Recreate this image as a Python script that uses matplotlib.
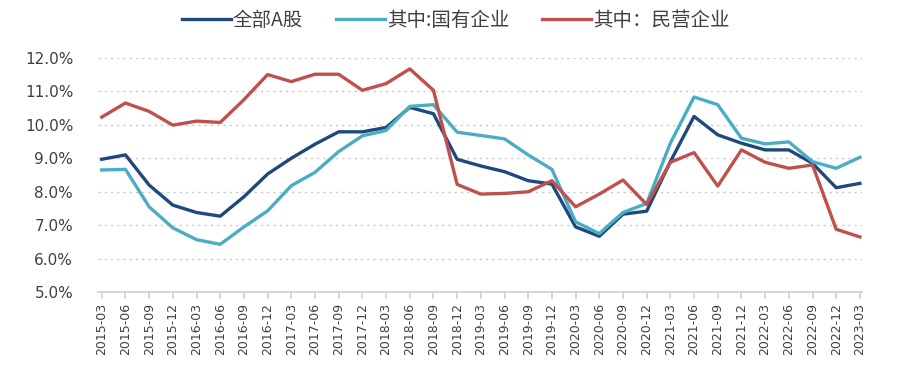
import matplotlib
matplotlib.use("Agg")
import matplotlib.pyplot as plt
from matplotlib.ticker import FuncFormatter

plt.rcParams['font.family'] = ['Noto Sans CJK SC', 'DejaVu Sans']

quarters = ['2015-03', '2015-06', '2015-09', '2015-12', '2016-03', '2016-06', '2016-09', '2016-12',
            '2017-03', '2017-06', '2017-09', '2017-12', '2018-03', '2018-06', '2018-09', '2018-12',
            '2019-03', '2019-06', '2019-09', '2019-12', '2020-03', '2020-06', '2020-09', '2020-12',
            '2021-03', '2021-06', '2021-09', '2021-12', '2022-03', '2022-06', '2022-09', '2022-12',
            '2023-03']

all_a = [8.97, 9.10, 8.20, 7.60, 7.38, 7.27, 7.85, 8.53, 9.00, 9.42, 9.79, 9.79,
         9.92, 10.52, 10.33, 8.97, 8.77, 8.60, 8.33, 8.23, 6.95, 6.67, 7.33, 7.42,
         8.90, 10.25, 9.70, 9.45, 9.25, 9.25, 8.85, 8.12, 8.25]
soe = [8.65, 8.67, 7.55, 6.92, 6.57, 6.43, 6.95, 7.43, 8.18, 8.58, 9.20, 9.67,
       9.83, 10.55, 10.60, 9.78, 9.68, 9.58, 9.10, 8.67, 7.10, 6.75, 7.38, 7.65,
       9.45, 10.83, 10.60, 9.60, 9.43, 9.49, 8.90, 8.70, 9.03]
private = [10.23, 10.65, 10.40, 9.99, 10.11, 10.07, 10.75, 11.50, 11.29, 11.51, 11.51, 11.03,
           11.23, 11.67, 11.03, 8.22, 7.93, 7.95, 8.00, 8.33, 7.55, 7.93, 8.35, 7.62,
           8.88, 9.17, 8.17, 9.25, 8.88, 8.70, 8.80, 6.88, 6.65]

names = ['全部A股', '其中:国有企业', '其中：民营企业']
colors = ['#1F497D', '#4BACC6', '#C0504D']

fig = plt.figure(figsize=(9.01, 3.78), dpi=100)
ax = fig.add_axes([0.109, 0.227, 0.848, 0.620])

x = range(len(quarters))
for series, name, c in zip([all_a, soe, private], names, colors):
    ax.plot(x, series, color=c, linewidth=2.4, label=name, solid_joinstyle='round')

ax.set_ylim(5, 12)
ax.set_yticks([5, 6, 7, 8, 9, 10, 11, 12])
ax.yaxis.set_major_formatter(FuncFormatter(lambda v, p: f'{v:.1f}%'))
ax.set_xlim(-0.15, len(quarters) - 0.9)
ax.set_xticks(list(x))
ax.set_xticklabels(quarters, rotation=90, fontsize=9, color='#404040', family='DejaVu Sans')

ax.grid(axis='y', color='#c8c8c8', linestyle=(0, (1.5, 3)), linewidth=1)
ax.set_axisbelow(True)
for s in ['top', 'right', 'left']:
    ax.spines[s].set_visible(False)
ax.spines['bottom'].set_color('#d0d0d0')
ax.spines['bottom'].set_linewidth(1.2)
ax.tick_params(axis='x', length=5, color='#d0d0d0', width=1.2, pad=3)
ax.tick_params(axis='y', length=0, labelsize=11, labelcolor='#404040', pad=18)
for lab in ax.get_yticklabels():
    lab.set_family('DejaVu Sans')

fig.legend(loc='upper center', bbox_to_anchor=(0.506, 1.02), ncol=3, frameon=False,
           fontsize=14, handlelength=2.5, handletextpad=0.1, columnspacing=1.7,
           labelcolor='#404040')

fig.savefig('out.png', dpi=100)
